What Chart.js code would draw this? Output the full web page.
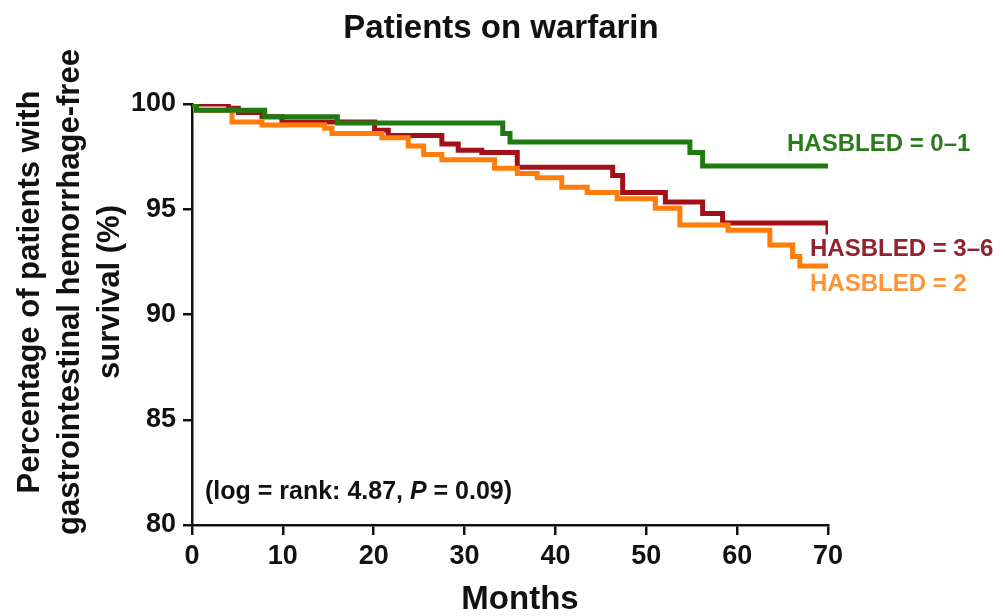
<!DOCTYPE html>
<html>
<head>
    <title>Patients on warfarin</title>
    <script src="https://cdn.jsdelivr.net/npm/chart.js"></script>
    <style>
        body { margin: 0; background: #fff; }
        .chart-container { width: 1005px; height: 616px; }
    </style>
</head>
<body>
    <div class="chart-container">
        <canvas id="kmChart"></canvas>
    </div>

    <script>
        // Kaplan-Meier steps: month of each drop and the survival after it
        const monthsLow = [0, 0.5, 8, 16, 34.2, 35, 54.8, 56.2, 70];
        const survivalLow = [100, 99.7, 99.4, 99.1, 98.6, 98.2, 97.7, 97.05, 97.05];

        const monthsHigh = [0, 4, 5.1, 7.7, 9.9, 20.1, 21.6, 27.5, 29.3, 31.9, 35.8, 46.3, 47.4, 52.1, 56.2, 58.4, 70, 70];
        const survivalHigh = [100, 99.8, 99.6, 99.4, 99.15, 98.75, 98.5, 98.1, 97.8, 97.7, 97.0, 96.6, 95.8, 95.35, 94.8, 94.35, 94.35, 93.8];

        const monthsMid = [0, 0.4, 4.4, 7.7, 14.6, 15.4, 20.9, 23.8, 25.5, 27.5, 33.3, 35.8, 38, 40.7, 43.5, 46.8, 51, 53.7, 59, 63.6, 66.1, 66.9, 70];
        const survivalMid = [100, 99.7, 99.15, 99.0, 98.85, 98.6, 98.4, 98.0, 97.6, 97.35, 96.95, 96.7, 96.5, 96.05, 95.8, 95.5, 95.05, 94.25, 94.0, 93.3, 92.75, 92.3, 92.3];

        const xTicks = [0, 10, 20, 30, 40, 50, 60, 70];
        const yTicks = [80, 85, 90, 95, 100];

        const toPoints = (xs, ys) => xs.map((x, i) => ({ x: x, y: ys[i] }));

        const font = '"Liberation Sans", Arial, sans-serif';

        const textPlugin = {
            id: 'texts',
            afterDraw(chart) {
                const c = chart.ctx;
                const ys = chart.scales.y;
                c.save();
                c.fillStyle = '#111';
                c.textAlign = 'center';
                c.textBaseline = 'middle';
                c.font = 'bold 33px ' + font;
                c.fillText('Patients on warfarin', 501, 29);
                c.fillText('Months', 520, 600);

                // y axis title, three lines
                c.save();
                c.translate(70, 292);
                c.rotate(-Math.PI / 2);
                c.font = 'bold 31px ' + font;
                c.fillText('Percentage of patients with', 0, -40);
                c.fillText('gastrointestinal hemorrhage-free', 0, 0);
                c.fillText('survival (%)', 0, 40);
                c.restore();

                // curve labels
                c.textAlign = 'left';
                c.font = 'bold 24px ' + font;
                c.fillStyle = '#2b7a1c';
                c.fillText('HASBLED = 0\u20131', 787, ys.getPixelForValue(98.1));
                c.fillStyle = '#8f2430';
                c.fillText('HASBLED = 3\u20136', 810, ys.getPixelForValue(93.1));
                c.fillStyle = '#ff9436';
                c.fillText('HASBLED = 2', 810, ys.getPixelForValue(91.45));

                // log-rank note
                c.fillStyle = '#111';
                let px = 205;
                const py = ys.getPixelForValue(81.55);
                const parts = [['(log = rank: 4.87, ', 'bold'], ['P', 'italic bold'], [' = 0.09)', 'bold']];
                parts.forEach(([t, style]) => {
                    c.font = style + ' 25px ' + font;
                    c.fillText(t, px, py);
                    px += c.measureText(t).width;
                });
                c.restore();
            }
        };

        const ctx = document.getElementById('kmChart').getContext('2d');
        new Chart(ctx, {
            type: 'line',
            data: {
                datasets: [
                    { label: 'HASBLED = 0-1', data: toPoints(monthsLow, survivalLow), borderColor: '#1f7a12' },
                    { label: 'HASBLED = 2', data: toPoints(monthsMid, survivalMid), borderColor: '#ff7d0a' },
                    { label: 'HASBLED = 3-6', data: toPoints(monthsHigh, survivalHigh), borderColor: '#a3101a' }
                ].map(d => Object.assign(d, { stepped: true, borderWidth: 5, pointRadius: 0, fill: false }))
            },
            options: {
                responsive: true,
                maintainAspectRatio: false,
                animation: false,
                layout: { padding: { left: 0, right: 177, top: 104, bottom: 0 } },
                plugins: { legend: { display: false }, tooltip: { enabled: false } },
                scales: {
                    x: {
                        type: 'linear', min: 0, max: 70,
                        afterBuildTicks: s => { s.ticks = xTicks.map(v => ({ value: v })); },
                        afterFit: s => { s.height = 91; },
                        border: { color: '#111', width: 2.5 },
                        grid: { drawOnChartArea: false, tickLength: 10, color: '#111', lineWidth: 2.5 },
                        ticks: { color: '#111', padding: 5, font: { family: font, size: 27, weight: 'bold' } }
                    },
                    y: {
                        type: 'linear', min: 80, max: 100,
                        afterBuildTicks: s => { s.ticks = yTicks.map(v => ({ value: v })); },
                        afterFit: s => { s.width = 192; },
                        border: { color: '#111', width: 2.5 },
                        grid: { drawOnChartArea: false, tickLength: 9, color: '#111', lineWidth: 2.5 },
                        ticks: { color: '#111', padding: 7, font: { family: font, size: 27, weight: 'bold' } }
                    }
                }
            },
            plugins: [textPlugin]
        });
    </script>
</body>
</html>
